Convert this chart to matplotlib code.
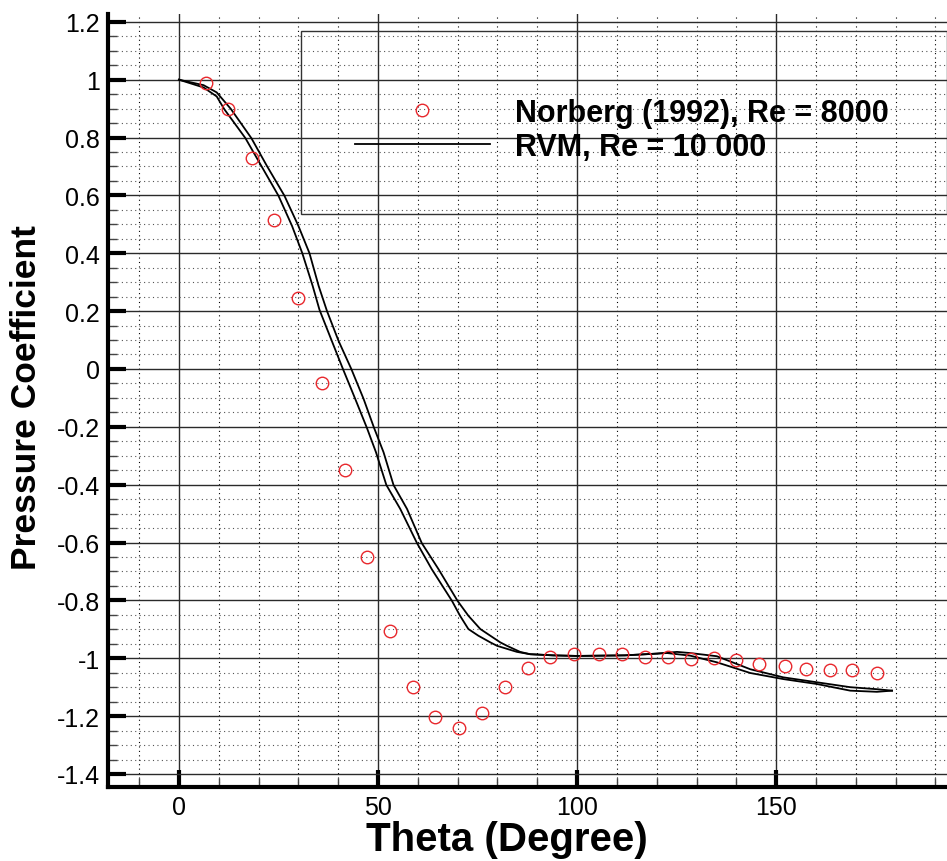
import numpy as np
import matplotlib.pyplot as plt
from matplotlib.ticker import MultipleLocator, FuncFormatter
from matplotlib.patches import Rectangle

plt.rcParams['font.family'] = ['Liberation Sans', 'DejaVu Sans']

# Norberg (1992) experiment, Re = 8000
norberg_theta = [6.7, 12.3, 18.4, 24.0, 29.9, 36.0, 41.7, 47.2, 53.1, 58.8, 64.4,
                 70.4, 76.1, 81.8, 87.6, 93.2, 99.3, 105.6, 111.3, 117.1, 122.9,
                 128.6, 134.4, 139.9, 145.8, 152.1, 157.5, 163.6, 169.1, 175.3]
norberg_cp = [0.990, 0.898, 0.729, 0.515, 0.247, -0.049, -0.350, -0.651, -0.905,
              -1.100, -1.203, -1.241, -1.189, -1.101, -1.034, -0.994, -0.987,
              -0.987, -0.987, -0.996, -0.996, -1.004, -1.000, -1.007, -1.020,
              -1.027, -1.037, -1.041, -1.041, -1.052]

# RVM, Re = 10 000 (two traces)
rvm_theta_1 = [0.0, 6.2, 9.5, 13.1, 18.2, 22.1, 26.5, 30.0, 32.8, 35.1, 37.2, 40.1,
               43.3, 46.4, 49.0, 51.4, 53.9, 57.3, 61.0, 65.2, 70.0, 72.7, 75.7,
               78.2, 80.7, 82.4, 85.7, 88.2, 94.0, 100.0, 112.0, 120.0, 125.1,
               128.4, 135.1, 143.5, 151.8, 160.2, 168.6, 175.3, 179.1]
rvm_cp_1 = [1.0, 0.981, 0.956, 0.898, 0.798, 0.702, 0.599, 0.495, 0.400, 0.287,
            0.200, 0.097, 0.0, -0.104, -0.203, -0.288, -0.401, -0.484, -0.602,
            -0.692, -0.802, -0.853, -0.899, -0.922, -0.945, -0.957, -0.978, -0.986,
            -0.990, -0.992, -0.990, -0.984, -0.978, -0.982, -0.993, -1.038, -1.066,
            -1.083, -1.100, -1.107, -1.112]
rvm_theta_2 = [0.0, 6.2, 9.5, 11.4, 16.7, 20.7, 25.0, 28.4, 31.0, 33.6, 35.3, 38.4,
               41.2, 44.3, 47.2, 49.5, 52.1, 55.6, 59.8, 63.5, 68.6, 70.6, 72.7,
               75.2, 78.2, 79.9, 84.9, 88.2, 94.0, 100.0, 112.0, 122.6, 128.4,
               135.1, 143.5, 151.8, 160.2, 168.6, 175.3, 179.1]
rvm_cp_2 = [1.0, 0.973, 0.942, 0.898, 0.798, 0.702, 0.599, 0.495, 0.400, 0.287,
            0.205, 0.097, 0.0, -0.104, -0.203, -0.288, -0.401, -0.484, -0.602,
            -0.692, -0.802, -0.853, -0.899, -0.922, -0.945, -0.957, -0.978, -0.986,
            -0.990, -0.992, -0.990, -0.982, -0.991, -1.014, -1.051, -1.072, -1.089,
            -1.112, -1.116, -1.112]

W, H = 947, 862
fig = plt.figure(figsize=(W / 100, H / 100), dpi=100)
left, right, top, bottom = 108, 947, 15, 787.7
ax = fig.add_axes([left / W, 1 - bottom / H, (right - left) / W, (bottom - top) / H])
ax.set_xlim(-17.8, 192.9)
ax.set_ylim(-1.444, 1.227)

ax.set_axisbelow(True)
ax.xaxis.set_major_locator(MultipleLocator(50))
ax.xaxis.set_minor_locator(MultipleLocator(10))
ax.yaxis.set_major_locator(MultipleLocator(0.2))
ax.yaxis.set_minor_locator(MultipleLocator(0.05))
ax.yaxis.set_major_formatter(FuncFormatter(lambda v, p: f'{round(v, 2) + 0.0:g}'))

ax.xaxis.grid(True, which='major', color='#2a2a2a', lw=1.0)
ax.yaxis.grid(True, which='major', color='#2a2a2a', lw=1.0)
ax.xaxis.grid(True, which='minor', color='black', lw=0.8, ls=(0, (1, 3)))
ax.yaxis.grid(True, which='minor', color='#555555', lw=0.8, ls=(0, (1, 3)))

for s in ['top', 'right']:
    ax.spines[s].set_visible(False)
for s in ['left', 'bottom']:
    ax.spines[s].set_linewidth(3)

ax.tick_params(axis='y', which='major', direction='in', length=13, width=3,
               labelsize=18, pad=6)
ax.tick_params(axis='x', which='major', direction='in', length=12, width=3,
               labelsize=18, pad=6)
ax.tick_params(which='minor', direction='in', length=6.5, width=1, color='#444444')

ax.plot(rvm_theta_1, rvm_cp_1, color='black', lw=1.3, label='RVM, Re = 10 000')
ax.plot(rvm_theta_2, rvm_cp_2, color='black', lw=1.3)
ax.plot(norberg_theta, norberg_cp, ls='none', marker='o', mfc='none', mec='#e8282d',
        ms=9, mew=1.0, label='Norberg (1992), Re = 8000')

ax.set_xlabel('Theta (Degree)', fontsize=29, fontweight='bold')
ax.xaxis.label.set_va('center')
ax.xaxis.set_label_coords((507 - left) / (right - left), -52 / (bottom - top))
ax.set_ylabel('Pressure Coefficient', fontsize=25.5, fontweight='bold')
ax.yaxis.label.set_va('center')
ax.yaxis.set_label_coords((27 - left) / (right - left), (bottom - 398) / (bottom - top))

# legend frame
fig.add_artist(Rectangle((301 / W, 1 - 215 / H), (946.5 - 301) / W, (215 - 31.7) / H,
                         transform=fig.transFigure, fill=False, ec='#333333', lw=1))
h, l = ax.get_legend_handles_labels()
fig.legend([h[1], h[0]], [l[1], l[0]], loc='center left',
           bbox_to_anchor=(355 / W, 1 - 131 / H), frameon=False, borderpad=0,
           borderaxespad=0, handlelength=4.41, handletextpad=0.82, labelspacing=0.13,
           prop=dict(weight='bold', size=22))

fig.savefig('out.png', dpi=100)
